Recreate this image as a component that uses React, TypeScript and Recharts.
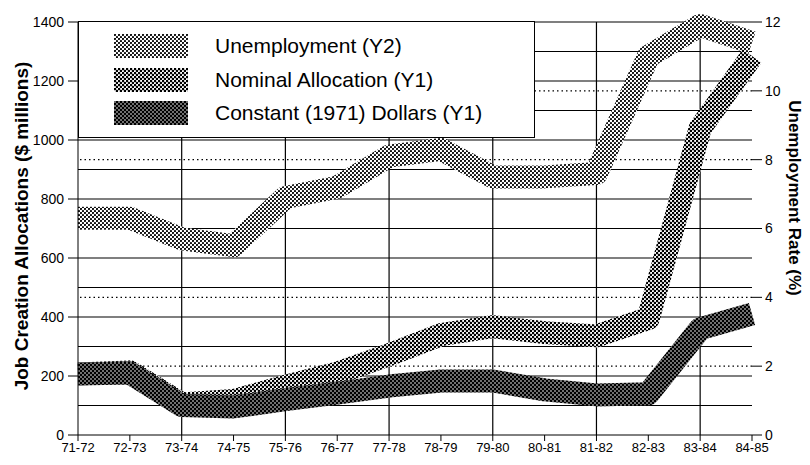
import React from 'react';
import { LineChart, Line, XAxis, YAxis, ReferenceLine } from 'recharts';

// fiscal years on the category axis
const years = [
    '71-72', '72-73', '73-74', '74-75', '75-76', '76-77', '77-78',
    '78-79', '79-80', '80-81', '81-82', '82-83', '83-84', '84-85',
];

// Y2: unemployment rate (%)
const unemployment = [6.3, 6.3, 5.7, 5.5, 6.9, 7.2, 8.1, 8.3, 7.5, 7.5, 7.6, 11.0, 11.9, 11.4];
// Y1: job creation allocations ($ millions)
const nominal = [207, 214, 105, 117, 165, 210, 272, 340, 367, 347, 336, 395, 1040, 1285];
const constant = [207, 210, 100, 95, 120, 142, 166, 183, 183, 153, 136, 140, 360, 410];

const leftTicks = [0, 200, 400, 600, 800, 1000, 1200, 1400];
const rightTicks = [0, 2, 4, 6, 8, 10, 12];
const gridLevels = [100, 200, 300, 400, 500, 600, 700, 800, 900, 1000, 1100, 1200, 1300, 1400];
const dottedLevels = [2, 4, 8, 10];
const verticalYears = ['73-74', '75-76', '77-78', '79-80', '81-82', '83-84'];

const legendItems = [
    { label: 'Unemployment (Y2)', pattern: 'patUnemp' },
    { label: 'Nominal Allocation (Y1)', pattern: 'patNominal' },
    { label: 'Constant (1971) Dollars (Y1)', pattern: 'patConstant' },
];

const FONT = '"Liberation Sans", Arial, sans-serif';

const chartData = years.map((year, i) => ({
    year,
    unemployment: unemployment[i],
    nominal: nominal[i],
    constant: constant[i],
}));

// halftone-like fills, shared by the bands and the legend swatches
const Patterns = () => (
    <svg width={0} height={0} style={{ position: 'absolute' }}>
        <defs>
            <pattern id="patUnemp" patternUnits="userSpaceOnUse" width={4} height={4}>
                <rect width={4} height={4} fill="#fff" />
                <circle cx={1} cy={1} r={1.1} fill="#000" />
                <circle cx={3} cy={3} r={1.1} fill="#000" />
            </pattern>
            <pattern id="patNominal" patternUnits="userSpaceOnUse" width={4} height={4}>
                <rect width={4} height={4} fill="#fff" />
                <circle cx={1} cy={1} r={1.3} fill="#000" />
                <circle cx={3} cy={3} r={1.3} fill="#000" />
            </pattern>
            <pattern id="patConstant" patternUnits="userSpaceOnUse" width={4} height={4}>
                <rect width={4} height={4} fill="#000" />
                <circle cx={1} cy={1} r={0.8} fill="#fff" />
                <circle cx={3} cy={3} r={0.8} fill="#fff" />
            </pattern>
        </defs>
    </svg>
);

const ChartLegend = () => (
    <div
        style={{
            position: 'absolute',
            left: 78,
            top: 21,
            width: 457,
            height: 117,
            border: '1px solid #000',
            background: '#fff',
            boxSizing: 'border-box',
        }}
    >
        {legendItems.map((item, i) => (
            <div key={item.label} style={{ position: 'absolute', left: 35, top: 12 + i * 33.5, height: 24 }}>
                <svg width={74} height={24} style={{ position: 'absolute', left: 0, top: 0 }}>
                    <rect width={74} height={24} fill={`url(#${item.pattern})`} />
                </svg>
                <span
                    style={{
                        position: 'absolute',
                        left: 101,
                        top: -1,
                        whiteSpace: 'nowrap',
                        fontFamily: FONT,
                        fontSize: 21,
                        lineHeight: '26px',
                        color: '#000',
                    }}
                >
                    {item.label}
                </span>
            </div>
        ))}
    </div>
);

// axis titles, placed where the reference has them
const AxisTitles = () => (
    <svg width={810} height={465} style={{ position: 'absolute', left: 0, top: 0, pointerEvents: 'none' }}>
        <text
            transform="translate(28,226) rotate(-90)"
            textAnchor="middle"
            fontFamily={FONT}
            fontWeight="bold"
            fontSize={19}
            fill="#000"
        >
            Job Creation Allocations ($ millions)
        </text>
        <text
            transform="translate(789,198) rotate(90)"
            textAnchor="middle"
            fontFamily={FONT}
            fontWeight="bold"
            fontSize={17}
            fill="#000"
        >
            Unemployment Rate (%)
        </text>
    </svg>
);

export default function App() {
    return (
        <div style={{ position: 'absolute', left: 0, top: 0, width: 810, height: 465, background: '#fff' }}>
            <Patterns />
            <LineChart width={810} height={465} data={chartData} margin={{ top: 22, right: 0, bottom: 0, left: 18 }}>
                <XAxis
                    dataKey="year"
                    interval={0}
                    height={30}
                    stroke="#000"
                    tickSize={6}
                    tickMargin={2}
                    tick={{ fill: '#000', fontSize: 13, fontFamily: FONT }}
                />
                <YAxis
                    yAxisId="left"
                    domain={[0, 1400]}
                    ticks={leftTicks}
                    width={60}
                    stroke="#000"
                    tickSize={10}
                    tickMargin={4}
                    tick={{ fill: '#000', fontSize: 14, fontFamily: FONT }}
                />
                <YAxis
                    yAxisId="right"
                    orientation="right"
                    domain={[0, 12]}
                    ticks={rightTicks}
                    width={58}
                    axisLine={false}
                    tickLine={{ stroke: '#000' }}
                    tickSize={10}
                    tickMargin={3}
                    tick={{ fill: '#000', fontSize: 14, fontFamily: FONT }}
                />

                {gridLevels.map((v) => (
                    <ReferenceLine key={`g-${v}`} yAxisId="left" y={v} stroke="#000" strokeWidth={1.2} />
                ))}
                {dottedLevels.map((v) => (
                    <ReferenceLine key={`d-${v}`} yAxisId="right" y={v} stroke="#000" strokeWidth={1.2} strokeDasharray="1.5 3" />
                ))}
                {verticalYears.map((y) => (
                    <ReferenceLine key={`v-${y}`} yAxisId="left" x={y} stroke="#000" strokeWidth={1.2} />
                ))}

                <Line
                    yAxisId="right"
                    dataKey="unemployment"
                    stroke="url(#patUnemp)"
                    strokeWidth={23}
                    strokeLinejoin="round"
                    dot={false}
                    activeDot={false}
                    type="linear"
                    isAnimationActive={false}
                />
                <Line
                    yAxisId="left"
                    dataKey="nominal"
                    stroke="url(#patNominal)"
                    strokeWidth={23}
                    strokeLinejoin="round"
                    dot={false}
                    activeDot={false}
                    type="linear"
                    isAnimationActive={false}
                />
                <Line
                    yAxisId="left"
                    dataKey="constant"
                    stroke="url(#patConstant)"
                    strokeWidth={23}
                    strokeLinejoin="round"
                    dot={false}
                    activeDot={false}
                    type="linear"
                    isAnimationActive={false}
                />
            </LineChart>
            <ChartLegend />
            <AxisTitles />
        </div>
    );
}
